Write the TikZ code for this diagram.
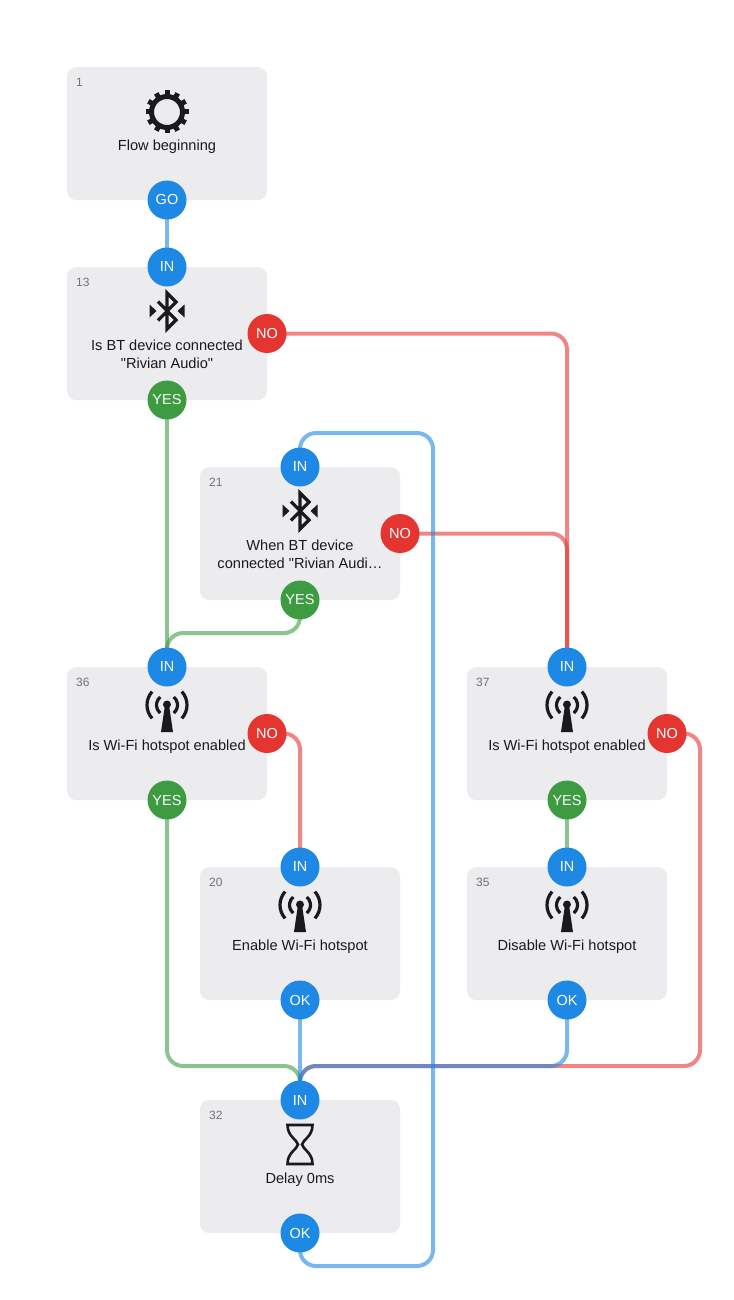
\documentclass[tikz,border=0pt]{standalone}
\usepackage{fontspec}
\setmainfont{Liberation Sans}
\newfontfamily\straightfont{Liberation Sans}
\usepackage{xcolor}
\usetikzlibrary{positioning, calc, backgrounds}
\definecolor{cardgray}{HTML}{ECEBED}
\definecolor{portblue}{HTML}{1E88E5}
\definecolor{portgreen}{HTML}{3D9C42}
\definecolor{portred}{HTML}{E53530}
\definecolor{inkblack}{HTML}{1A1A1C}
\newcommand{\dq}{{\straightfont\symbol{34}}}

\begin{document}
\begin{tikzpicture}[
    x = 1pt, y = 1pt,
    card/.style = {rectangle, fill = cardgray, rounded corners = 9pt, inner sep = 0pt, outer sep = 0pt, minimum width = 200pt, minimum height = 133pt},
    port/.style = {circle, inner sep = 0pt, minimum size = 39pt, text = white, font = \fontsize{14.5}{16}\selectfont},
    inport/.style = {port, fill = portblue},
    okport/.style = {port, fill = portblue},
    yesport/.style = {port, fill = portgreen},
    noport/.style = {port, fill = portred},
    cardid/.style = {anchor = west, inner sep = 0pt, text = black!55, font = \fontsize{12}{13}\selectfont},
    cardtext/.style = {align = center, inner sep = 0pt, text = inkblack, font = \fontsize{14.6}{18}\selectfont},
    wire/.style = {line width = 4pt, rounded corners = 16pt, draw opacity = .6},
    bluewire/.style = {wire, draw = portblue},
    greenwire/.style = {wire, draw = portgreen},
    redwire/.style = {wire, draw = portred},
    % the four icons, drawn round their own centre
    gearicon/.pic = {
        \draw [inkblack, line width = 5pt] (0,0) circle [radius = 15.5pt];
        \foreach \a in {0,30,...,330}
            \draw [inkblack, line width = 5pt] (\a:16pt) -- (\a:21.5pt);
    },
    btrune/.pic = {
        \draw [inkblack, line width = 3.2pt, line join = miter]
            (-9,-9.5) -- (9,9) -- (0,18) -- (0,-18) -- (9,-9) -- (-9,9.5);
        \fill [inkblack] (-17.5,6.5) -- (-10.5,0) -- (-17.5,-6.5) -- cycle;
        \fill [inkblack] (17.5,6.5) -- (10.5,0) -- (17.5,-6.5) -- cycle;
    },
    wifitower/.pic = {
        \fill [inkblack] (0,6.5) circle [radius = 4pt];
        \fill [inkblack] (-2,6) -- (2,6) -- (6,-21) -- (-6,-21) -- cycle;
        \foreach \s in {1,-1} {
            \begin{scope}[xscale = \s, shift = {(0,6)}]
                \draw [inkblack, line width = 3.2pt] (-50:10.5pt) arc [start angle = -50, end angle = 50, radius = 10.5pt];
                \draw [inkblack, line width = 3.2pt] (-42:20pt) arc [start angle = -42, end angle = 42, radius = 20pt];
            \end{scope}
        }
    },
    hourglass/.pic = {
        \draw [inkblack, line width = 2.6pt, line join = miter]
            (-12.5,19.5) -- (12.5,19.5) .. controls (12.5,8) and (3,5) .. (2,0) .. controls (3,-5) and (12.5,-8) .. (12.5,-19.5)
            -- (-12.5,-19.5) .. controls (-12.5,-8) and (-3,-5) .. (-2,0) .. controls (-3,5) and (-12.5,8) .. (-12.5,19.5) -- cycle;
    },
    ]

    \useasboundingbox (0,0) rectangle (733,-1300);

    \node [card] (c1) at (167,-133.5) {};
    \node [card] (c13) [below = 67pt of c1] {};
    \node [card] (c21) [below right = 67pt and -67pt of c13] {};
    \node [card] (c36) [below = 267pt of c13] {};
    \node [card] (c20) [below right = 67pt and -67pt of c36] {};
    \node [card] (c37) [right = 200pt of c36] {};
    \node [card] (c35) [below = 67pt of c37] {};
    \node [card] (c32) [below = 100pt of c20] {};

    % numbers
    \foreach \c/\n in {c1/1, c13/13, c21/21, c36/36, c20/20, c37/37, c35/35, c32/32}
        \node [cardid] (\c id) at ([xshift = 9pt, yshift = -15pt]\c.north west) {\n};

    % icons
    \pic at ([yshift = -45pt]c1.north) {gearicon};
    \pic at ([yshift = -44pt]c13.north) {btrune};
    \pic at ([yshift = -44pt]c21.north) {btrune};
    \pic at ([yshift = -44pt]c36.north) {wifitower};
    \pic at ([yshift = -44pt]c20.north) {wifitower};
    \pic at ([yshift = -44pt]c37.north) {wifitower};
    \pic at ([yshift = -44pt]c35.north) {wifitower};
    \pic at ([yshift = -44.5pt]c32.north) {hourglass};

    % texts
    \node [cardtext] (c1txt)  at ([yshift = -79.5pt]c1.north)  {Flow beginning};
    \node [cardtext] (c13txt) at ([yshift = -87.5pt]c13.north) {Is BT device connected\\\dq Rivian Audio\dq};
    \node [cardtext] (c21txt) at ([yshift = -87.5pt]c21.north) {When BT device\\connected \dq Rivian Audi…};
    \node [cardtext] (c36txt) at ([yshift = -79.5pt]c36.north) {Is Wi-Fi hotspot enabled};
    \node [cardtext] (c20txt) at ([yshift = -79.5pt]c20.north) {Enable Wi-Fi hotspot};
    \node [cardtext] (c37txt) at ([yshift = -79.5pt]c37.north) {Is Wi-Fi hotspot enabled};
    \node [cardtext] (c35txt) at ([yshift = -79.5pt]c35.north) {Disable Wi-Fi hotspot};
    \node [cardtext] (c32txt) at ([yshift = -80pt]c32.north) {Delay 0ms};

    % ports
    \node [okport]  (c1go)   at (c1.south)  {GO};
    \node [inport]  (c13in)  at (c13.north) {IN};
    \node [yesport] (c13yes) at (c13.south) {YES};
    \node [noport]  (c13no)  at (c13.east)  {NO};
    \node [inport]  (c21in)  at (c21.north) {IN};
    \node [yesport] (c21yes) at (c21.south) {YES};
    \node [noport]  (c21no)  at (c21.east)  {NO};
    \node [inport]  (c36in)  at (c36.north) {IN};
    \node [yesport] (c36yes) at (c36.south) {YES};
    \node [noport]  (c36no)  at (c36.east)  {NO};
    \node [inport]  (c20in)  at (c20.north) {IN};
    \node [okport]  (c20ok)  at (c20.south) {OK};
    \node [inport]  (c37in)  at (c37.north) {IN};
    \node [yesport] (c37yes) at (c37.south) {YES};
    \node [noport]  (c37no)  at (c37.east)  {NO};
    \node [inport]  (c35in)  at (c35.north) {IN};
    \node [okport]  (c35ok)  at (c35.south) {OK};
    \node [inport]  (c32in)  at (c32.north) {IN};
    \node [okport]  (c32ok)  at (c32.south) {OK};

    % rails the long wires run along
    \coordinate (midrail) at (0,-633);
    \coordinate (lowrail) at (0,-1066);
    \coordinate (rightrail) at (700,0);
    \coordinate (looptop) at (433,-433);
    \coordinate (loopbot) at (433,-1266);

    % draw wires
    \begin{scope}[on background layer]
        \draw [redwire] (c13no.center) -| (c37in.center);
        \draw [redwire] (c21no.center) -| (c37in.center);
        \draw [redwire] (c36no.center) -| (c20in.center);
        \draw [redwire] (c37no.center) -| (rightrail |- lowrail) -| (c32in.center);
        \draw [greenwire] (c13yes.center) -- (c36in.center);
        \draw [greenwire] (c21yes.center) -- (c21yes |- midrail) -| (c36in.center);
        \draw [greenwire] (c36yes.center) -- (c36yes |- lowrail) -| (c32in.center);
        \draw [greenwire] (c37yes.center) -- (c35in.center);
        \draw [bluewire] (c1go.center) -- (c13in.center);
        \draw [bluewire] (c20ok.center) -- (c32in.center);
        \draw [bluewire] (c35ok.center) -- (c35ok |- lowrail) -| (c32in.center);
        \draw [bluewire] (c32ok.center) |- (loopbot) -- (looptop) -| (c21in.center);
    \end{scope}
\end{tikzpicture}
\end{document}
